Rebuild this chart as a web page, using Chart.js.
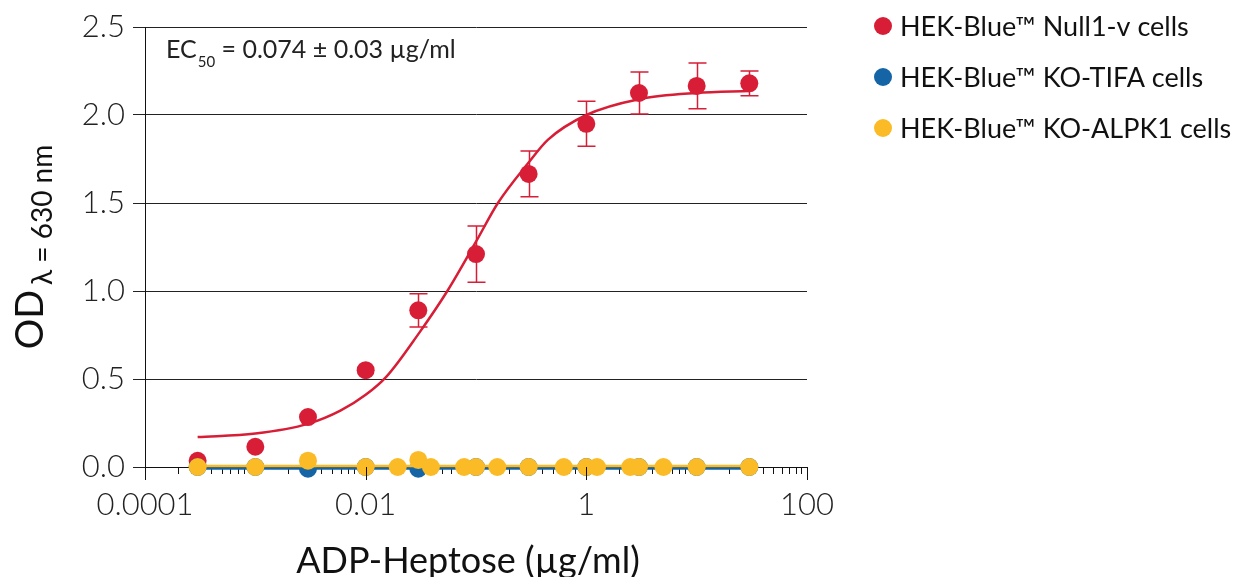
<!DOCTYPE html>
<html>
<head>
<meta charset="utf-8">
<title>ADP-Heptose dose response</title>
<script src="https://cdn.jsdelivr.net/npm/chart.js@4.4.1/dist/chart.umd.min.js"></script>
<style>
  html, body { margin: 0; padding: 0; background: #fff; }
  canvas { display: block; }
</style>
</head>
<body>
<canvas id="chart" width="1240" height="577"></canvas>
<script>
// half-log dilution series (ug/ml)
const doses = [0.0003, 0.001, 0.003, 0.01, 0.03, 0.1, 0.3, 1, 3, 10, 30];
const null1Values = [0.035, 0.115, 0.284, 0.55, 0.89, 1.21, 1.665, 1.95, 2.125, 2.165, 2.18];
const null1Errors = [0, 0, 0, 0, 0.095, 0.16, 0.13, 0.128, 0.12, 0.13, 0.07];
const tifaValues = [0, 0, -0.01, 0, -0.01, 0, 0, 0, 0, 0, 0];

const alpk1Doses = [0.0003, 0.001, 0.003, 0.01, 0.0195, 0.03, 0.039, 0.078, 0.1, 0.156,
  0.3, 0.625, 1, 1.25, 2.5, 3, 5, 10, 30];
const alpk1Values = [0, 0, 0.036, 0, 0, 0.04, 0, 0, 0, 0, 0, 0, 0, 0, 0, 0, 0, 0, 0];

// fitted curves
const fitDoses = [0.0003, 0.001, 0.003, 0.0059, 0.01, 0.0155, 0.03, 0.055, 0.1, 0.158, 0.3, 0.45, 1, 3, 10, 30];
const null1Fit = [0.17, 0.19, 0.245, 0.32, 0.41, 0.515, 0.755, 1.0, 1.28, 1.5, 1.73, 1.86, 2.0, 2.09, 2.125, 2.136];
const flatDoses = [0.0003, 30];
const tifaFit = [-0.008, -0.008];
const alpk1Fit = [0.006, 0.006];

const yTicks = [0, 0.5, 1.0, 1.5, 2.0, 2.5];
const xLabels = { "-4": "0.0001", "-2": "0.01", "0": "1", "2": "100" };

const seriesNames = ["HEK-Blue\u2122 Null1-v cells", "HEK-Blue\u2122 KO-TIFA cells", "HEK-Blue\u2122 KO-ALPK1 cells"];
const RED = "#d71e36";
const BLUE = "#1565a6";
const YELLOW = "#fbbb26";

const pts = (xs, ys) => xs.map((x, i) => ({ x: x, y: ys[i] }));

Chart.defaults.font.family = "Lato, 'Open Sans', sans-serif";
Chart.defaults.color = "#222";

const extras = {
  id: "extras",
  beforeDatasetsDraw(chart) {
    const ctx = chart.ctx;
    const xs = chart.scales.x, ys = chart.scales.y;
    ctx.save();
    ctx.strokeStyle = RED;
    ctx.lineWidth = 1.5;
    doses.forEach((d, i) => {
      if (!null1Errors[i]) return;
      const px = Math.round(xs.getPixelForValue(d)) + 0.5;
      const top = ys.getPixelForValue(null1Values[i] + null1Errors[i]);
      const bot = ys.getPixelForValue(null1Values[i] - null1Errors[i]);
      ctx.beginPath();
      ctx.moveTo(px, top); ctx.lineTo(px, bot);
      ctx.moveTo(px - 9, top); ctx.lineTo(px + 9, top);
      ctx.moveTo(px - 9, bot); ctx.lineTo(px + 9, bot);
      ctx.stroke();
    });
    ctx.restore();
  },
  afterDraw(chart) {
    const ctx = chart.ctx;
    const area = chart.chartArea;
    const xs = chart.scales.x;
    ctx.save();

    // longer ticks at labelled decades, y axis runs past the x axis
    ctx.strokeStyle = "#111";
    ctx.lineWidth = 1;
    ctx.beginPath();
    Object.keys(xLabels).forEach(k => {
      const px = Math.round(xs.getPixelForValue(Math.pow(10, +k))) + 0.5;
      ctx.moveTo(px, area.bottom); ctx.lineTo(px, area.bottom + 13);
    });
    ctx.moveTo(Math.round(area.left) + 0.5, area.bottom);
    ctx.lineTo(Math.round(area.left) + 0.5, area.bottom + 13);
    ctx.stroke();

    // EC50 note
    ctx.fillStyle = "#222";
    ctx.textBaseline = "alphabetic";
    ctx.textAlign = "left";
    let x = 166;
    ctx.font = "25px Lato";
    ctx.fillText("EC", x, 58);
    x += ctx.measureText("EC").width + 1;
    ctx.font = "15px Lato";
    ctx.fillText("50", x, 67);
    x += ctx.measureText("50").width;
    ctx.font = "25px Lato";
    ctx.fillText(" = 0.074 \u00b1 0.03 \u00b5g/ml", x, 58);

    // x title
    ctx.font = "36px Lato";
    ctx.textAlign = "center";
    ctx.fillStyle = "#111";
    ctx.fillText("ADP-Heptose (\u00b5g/ml)", 468, 573);

    // y title with subscript, rotated
    ctx.font = "38px Lato";
    const w1 = ctx.measureText("OD").width;
    ctx.font = "28px Lato";
    const w2 = ctx.measureText("\u03bb = 630 nm").width;
    const total = w1 + 5 + w2;
    ctx.translate(43, 247 + total / 2);
    ctx.rotate(-Math.PI / 2);
    ctx.textAlign = "left";
    ctx.font = "38px Lato";
    ctx.fillText("OD", 0, 0);
    ctx.font = "28px Lato";
    ctx.fillText("\u03bb = 630 nm", w1 + 5, 9);
    ctx.restore();

    // legend
    ctx.save();
    [RED, BLUE, YELLOW].forEach((c, i) => {
      const cy = 26 + i * 51;
      ctx.fillStyle = c;
      ctx.beginPath();
      ctx.arc(883, cy, 9, 0, Math.PI * 2);
      ctx.fill();
      ctx.fillStyle = "#111";
      ctx.font = "27px Lato";
      ctx.textBaseline = "middle";
      ctx.textAlign = "left";
      ctx.fillText(seriesNames[i], 900, cy + 1);
    });
    ctx.restore();
  }
};

new Chart(document.getElementById("chart"), {
  type: "scatter",
  data: {
    datasets: [
      {
        label: seriesNames[2],
        data: pts(alpk1Doses, alpk1Values),
        backgroundColor: YELLOW, borderWidth: 0, pointRadius: 9,
        clip: false, order: 0
      },
      {
        data: pts(flatDoses, alpk1Fit), showLine: true,
        borderColor: YELLOW, borderWidth: 2.5, pointRadius: 0,
        clip: false, order: 1
      },
      {
        label: seriesNames[1],
        data: pts(doses, tifaValues),
        backgroundColor: BLUE, borderWidth: 0, pointRadius: 9,
        clip: false, order: 2
      },
      {
        data: pts(flatDoses, tifaFit), showLine: true,
        borderColor: BLUE, borderWidth: 2.5, pointRadius: 0,
        clip: false, order: 3
      },
      {
        label: seriesNames[0],
        data: pts(doses, null1Values),
        backgroundColor: RED, borderWidth: 0, pointRadius: 9,
        clip: false, order: 4
      },
      {
        data: pts(fitDoses, null1Fit), showLine: true,
        borderColor: RED, borderWidth: 2.5, pointRadius: 0,
        cubicInterpolationMode: "monotone",
        clip: false, order: 5
      }
    ]
  },
  options: {
    responsive: false,
    animation: false,
    events: [],
    layout: { padding: { top: 27, right: 433, left: 0, bottom: 0 } },
    plugins: { legend: { display: false }, tooltip: { enabled: false } },
    scales: {
      x: {
        type: "logarithmic",
        min: 0.0001,
        max: 100,
        afterBuildTicks: scale => {
          const t = [];
          for (let e = -4; e < 2; e++) {
            for (let m = 1; m < 10; m++) t.push({ value: m * Math.pow(10, e) });
          }
          t.push({ value: 100 });
          scale.ticks = t;
        },
        afterFit: scale => { scale.height = 110; },
        ticks: {
          autoSkip: false,
          maxRotation: 0,
          padding: 12,
          color: "#222",
          font: { size: 31, weight: 300 },
          callback: v => {
            const k = String(Math.round(Math.log10(v)));
            return Math.abs(Math.log10(v) - +k) < 1e-6 && xLabels[k] ? xLabels[k] : "";
          }
        },
        grid: { drawOnChartArea: false, drawTicks: true, tickLength: 7, color: "#111" },
        border: { display: true, color: "#111", width: 1 }
      },
      y: {
        min: 0,
        max: 2.5,
        afterBuildTicks: scale => { scale.ticks = yTicks.map(v => ({ value: v })); },
        afterFit: scale => { scale.width = 145; },
        ticks: {
          padding: 8,
          color: "#222",
          font: { size: 31, weight: 300 },
          callback: v => v.toFixed(1)
        },
        grid: { color: "#222", lineWidth: 1, tickLength: 12 },
        border: { display: true, color: "#111", width: 1 }
      }
    }
  },
  plugins: [extras]
});
</script>
</body>
</html>
